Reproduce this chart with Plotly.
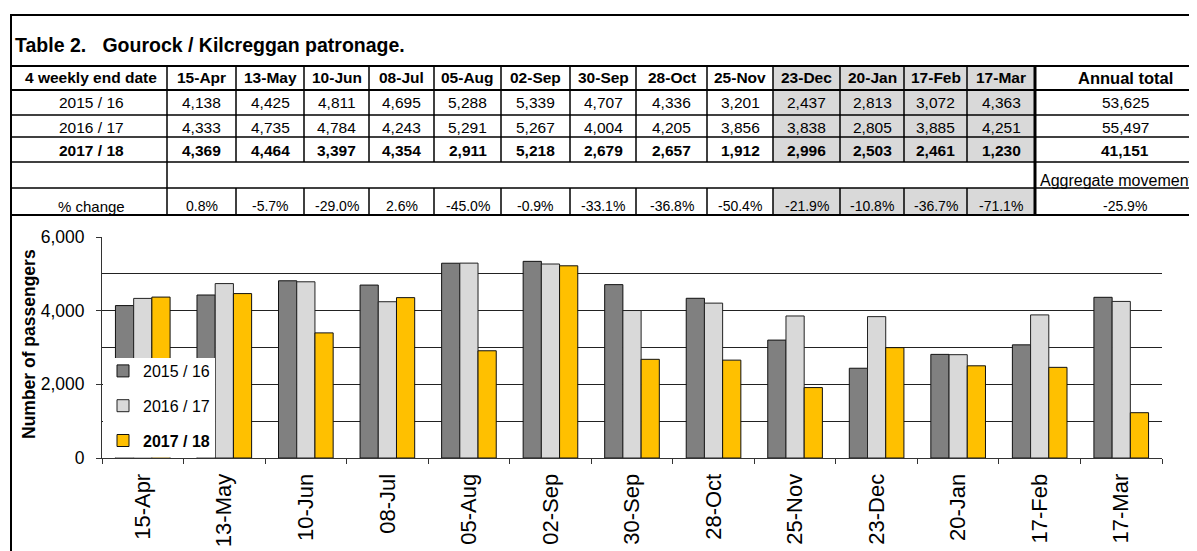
import plotly.graph_objects as go

# table / chart data
dates = ["15-Apr", "13-May", "10-Jun", "08-Jul", "05-Aug", "02-Sep", "30-Sep",
         "28-Oct", "25-Nov", "23-Dec", "20-Jan", "17-Feb", "17-Mar"]
y_1516 = [4138, 4425, 4811, 4695, 5288, 5339, 4707, 4336, 3201, 2437, 2813, 3072, 4363]
y_1617 = [4333, 4735, 4784, 4243, 5291, 5267, 4004, 4205, 3856, 3838, 2805, 3885, 4251]
y_1718 = [4369, 4464, 3397, 4354, 2911, 5218, 2679, 2657, 1912, 2996, 2503, 2461, 1230]
pct_change = ["0.8%", "-5.7%", "-29.0%", "2.6%", "-45.0%", "-0.9%", "-33.1%",
              "-36.8%", "-50.4%", "-21.9%", "-10.8%", "-36.7%", "-71.1%"]
year_labels = ["2015 / 16", "2016 / 17", "2017 / 18"]
annual_totals = [53625, 55497, 41151]
aggregate_move = "-25.9%"

FONT = "Liberation Sans, Arial, sans-serif"
W, H = 1197, 551
OFF = 8  # page body margin, everything below is in screen pixels
PL, PR, PT, PB = 102, 1162, 237, 458   # plot area (screen pixels)


def fx(px):
    return (px - PL) / (PR - PL)


def fy(py):
    return (PB - py) / (PB - PT)


fig = go.Figure()
fig.add_trace(go.Bar(x=dates, y=y_1516, name=year_labels[0], legendgroup="a",
                     marker=dict(color="#808080", line=dict(color="#111111", width=1))))
fig.add_trace(go.Bar(x=dates, y=y_1617, name=year_labels[1], legendgroup="b",
                     marker=dict(color="#D9D9D9", line=dict(color="#222222", width=1))))
fig.add_trace(go.Bar(x=dates, y=y_1718, name="<b>" + year_labels[2] + "</b>", legendgroup="c",
                     marker=dict(color="#FFC000", line=dict(color="#111111", width=1))))

# ---- table geometry (screen pixels)
col_edges = [11, 167, 236, 304, 369, 434, 501, 570, 636, 707, 773, 840, 904, 967, 1035]
row_edges = [66, 90, 115, 137, 162, 188, 215]
annual_cx = 1125
shade_from = 9  # 23-Dec onwards is shaded

shapes = []
ann = []


def hline(y, x0, x1, w=1.5):
    shapes.append(dict(type="line", xref="paper", yref="paper", x0=fx(x0), x1=fx(x1),
                       y0=fy(y), y1=fy(y), line=dict(color="black", width=w), layer="above"))


def vline(x, y0, y1, w=1.5):
    shapes.append(dict(type="line", xref="paper", yref="paper", x0=fx(x), x1=fx(x),
                       y0=fy(y0), y1=fy(y1), line=dict(color="black", width=w), layer="above"))


def rect(x0, x1, y0, y1, color):
    shapes.append(dict(type="rect", xref="paper", yref="paper", x0=fx(x0), x1=fx(x1),
                       y0=fy(y0), y1=fy(y1), fillcolor=color, line=dict(width=0), layer="above"))


def text(x, y, s, size=15.5, bold=False, xanchor="center"):
    if bold:
        s = "<b>" + s + "</b>"
    ann.append(dict(xref="paper", yref="paper", x=fx(x), y=fy(y), text=s, showarrow=False,
                    xanchor=xanchor, yanchor="middle",
                    font=dict(family=FONT, size=size, color="black")))


# shading
x_sh0, x_sh1 = col_edges[shade_from + 1], col_edges[-1]
rect(x_sh0, x_sh1, row_edges[0], row_edges[4], "#D9D9D9")
rect(x_sh0, x_sh1, row_edges[5], row_edges[6], "#D9D9D9")

# frame
hline(15, 10, W + 20, 2)
vline(11, 14, H + 20, 2)

# horizontal rules
for i, y in enumerate(row_edges):
    hline(y, 11, W + 20, 2 if i in (0, 1, 6) else 1.5)

# vertical rules
for i, x in enumerate(col_edges[1:-1]):
    if i == 0:
        vline(x, row_edges[0], row_edges[6], 1.5)
    else:
        vline(x, row_edges[0], row_edges[4], 1.5)
        vline(x, row_edges[5], row_edges[6], 1.5)
vline(col_edges[-1], row_edges[0], row_edges[6], 3)

# legend box (white panel over the plot)
rect(PL + 1, 215, 358, PB - 0.5, "white")

# title
ann.append(dict(xref="paper", yref="paper", x=fx(13), y=fy(45), showarrow=False,
                xanchor="left", yanchor="middle",
                text="<b>Table 2.\u00a0\u00a0\u00a0Gourock / Kilcreggan patronage.</b>",
                font=dict(family=FONT, size=19.5, color="black")))

row_cy = [78, 103, 127, 150, 180, 206]
first_cx = (col_edges[0] + col_edges[1]) / 2 + 2
cx = [(col_edges[i + 1] + col_edges[i + 2]) / 2 for i in range(len(dates))]

text(first_cx, row_cy[0], "4 weekly end date", bold=True)
for c, d in zip(cx, dates):
    text(c, row_cy[0], d, bold=True)
text(annual_cx, row_cy[0], "Annual total", size=16.5, bold=True)

for r, (lab, vals, tot) in enumerate(zip(year_labels, [y_1516, y_1617, y_1718], annual_totals)):
    b = r == 2
    text(first_cx, row_cy[r + 1], lab, bold=b)
    for c, v in zip(cx, vals):
        text(c, row_cy[r + 1], f"{v:,}", bold=b)
    text(annual_cx, row_cy[r + 1], f"{tot:,}", bold=b)

text(col_edges[-1] + 3, row_cy[4], "Aggregate movement", size=16, xanchor="left")
text(first_cx, row_cy[5], "% change", size=15)
for c, p in zip(cx, pct_change):
    text(c, row_cy[5], p, size=14)
text(annual_cx, row_cy[5], aggregate_move, size=14)

# y axis title
ann.append(dict(xref="paper", yref="paper", x=fx(29), y=fy(344), showarrow=False,
                text="<b>Number of passengers</b>", textangle=-90,
                xanchor="center", yanchor="middle",
                font=dict(family=FONT, size=17.5, color="black")))

fig.update_layout(
    width=W, height=H,
    margin=dict(l=PL - OFF, r=W - (PR - OFF), t=PT - OFF, b=H - (PB - OFF), autoexpand=False),
    paper_bgcolor="white", plot_bgcolor="white",
    barmode="group", bargap=0.33, bargroupgap=0,
    font=dict(family=FONT, color="black"),
    shapes=shapes, annotations=ann,
    showlegend=True,
    legend=dict(x=fx(PL + 1), y=fy(PB), xanchor="left", yanchor="bottom",
                bgcolor="rgba(0,0,0,0)", borderwidth=0, tracegroupgap=11, itemwidth=30,
                font=dict(family=FONT, size=16, color="black")),
    xaxis=dict(type="category", tickangle=-90, tickson="boundaries", ticks="outside",
               ticklen=5, tickcolor="#333333", showline=True, linecolor="#333333",
               linewidth=1, showgrid=False, ticklabelstandoff=6,
               tickfont=dict(family=FONT, size=22, color="black")),
    yaxis=dict(range=[0, 6000], dtick=2000, tickformat=",d", ticks="outside",
               ticklen=5, tickcolor="#333333", showline=True, linecolor="#333333",
               linewidth=1, showgrid=True, gridcolor="#222222", gridwidth=1,
               zeroline=False, ticklabelstandoff=8,
               minor=dict(dtick=1000, showgrid=True, gridcolor="#222222", gridwidth=1),
               tickfont=dict(family=FONT, size=17.5, color="black")),
)

fig.write_html("out.html")
